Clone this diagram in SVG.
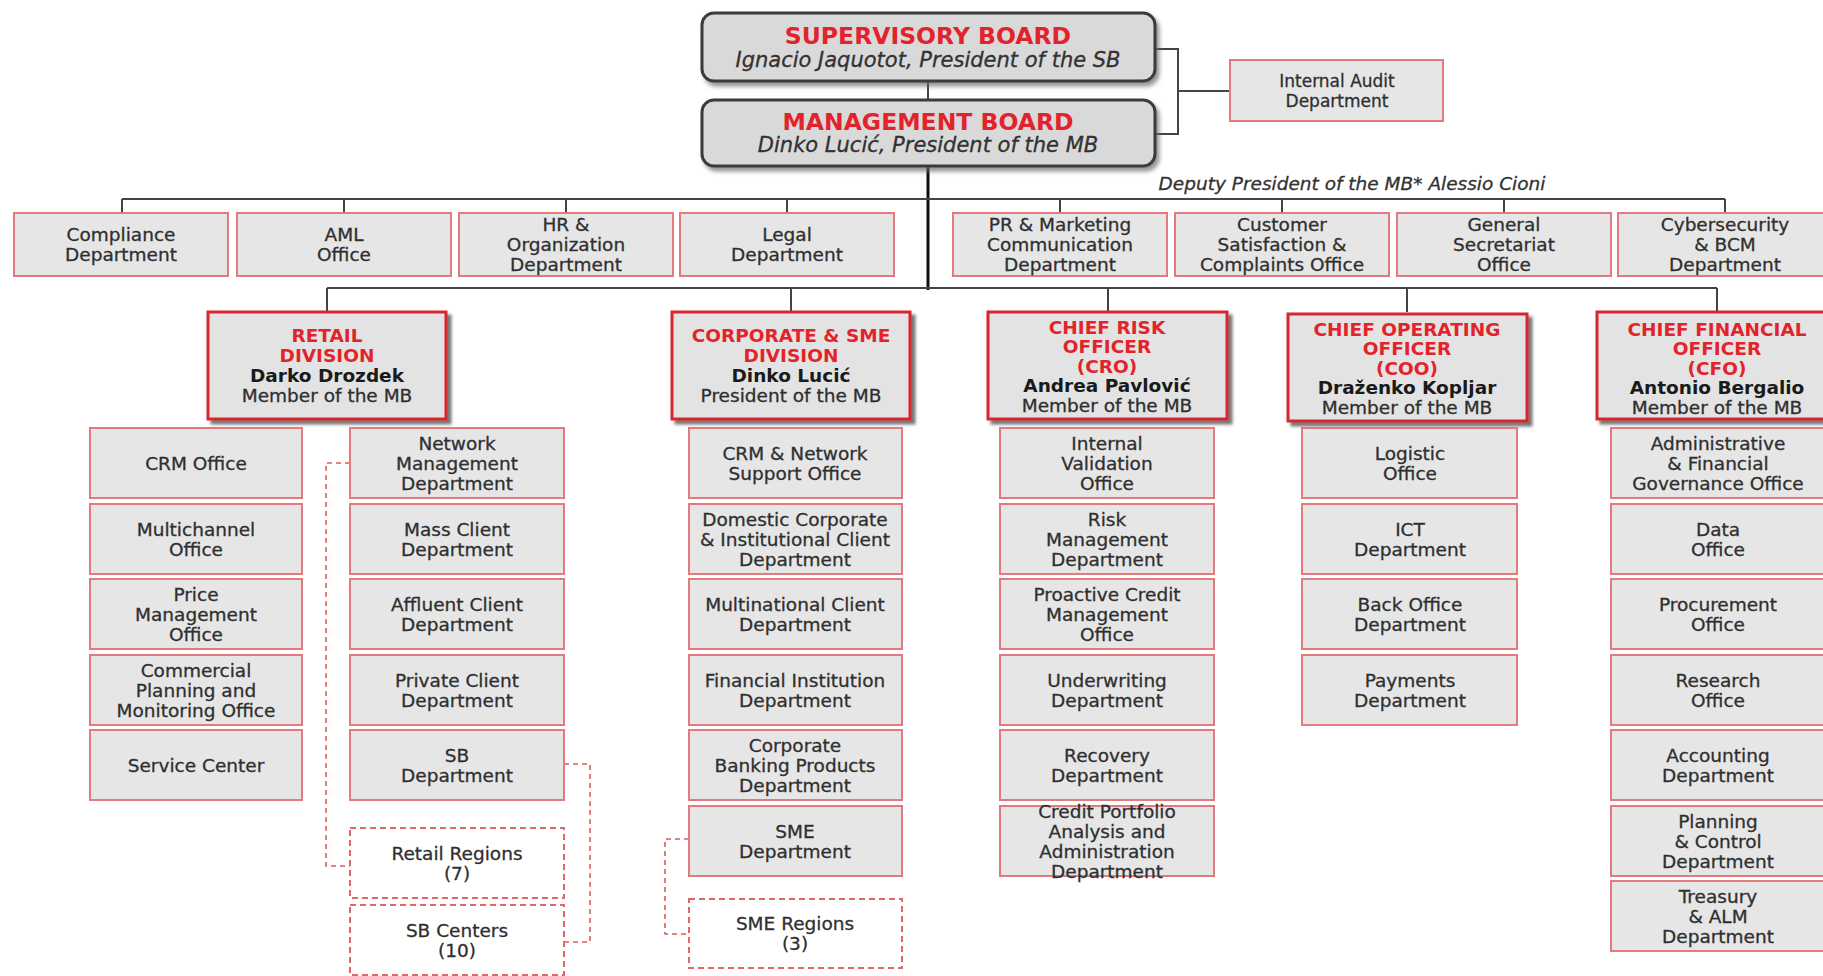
<svg xmlns="http://www.w3.org/2000/svg" width="1823" height="976" viewBox="0 0 1823 976">
<defs>
<filter id="sh" x="-5%" y="-5%" width="115%" height="120%"><feDropShadow dx="4" dy="4" stdDeviation="1.5" flood-color="#555" flood-opacity="0.8"/></filter>
<filter id="sh2" x="-5%" y="-5%" width="115%" height="125%"><feDropShadow dx="3" dy="4" stdDeviation="2" flood-color="#666" flood-opacity="0.7"/></filter>
</defs>
<style>
.box{fill:#e6e6e6;stroke:#e27a7e;stroke-width:2}
.dbox{fill:#fff;stroke:#e0666a;stroke-width:2;stroke-dasharray:6 4}
.div{fill:#e3e3e3;stroke:#d8262d;stroke-width:3;filter:url(#sh)}
.board{fill:#d9d9d9;stroke:#3a3a3a;stroke-width:3;filter:url(#sh2)}
text{font-family:"DejaVu Sans","Liberation Sans",sans-serif;font-size:18.5px;fill:#2f2f2f;stroke:#2f2f2f;stroke-width:0.3;text-anchor:middle}
.red{fill:#e3232b;stroke:none;font-weight:bold}
.nm{fill:#1a1a1a;stroke:none;font-weight:bold}
.bt{font-size:23.5px;fill:#e3232b;stroke:none;font-weight:bold}
.bs{font-size:21px;font-style:italic;fill:#333}
.it{font-style:italic;fill:#333}
.ln{stroke:#444;stroke-width:2;fill:none}
.trunk{stroke:#111;stroke-width:3;fill:none}
.dl{stroke:#e05a5e;stroke-width:1.6;stroke-dasharray:5 4;fill:none}
</style>

<g id="connectors">
<path class="ln" d="M928 81V100"/>
<path class="ln" d="M1155 49H1178V134H1155M1178 91H1230"/>
<path class="trunk" d="M928 166V290"/>
<path class="ln" d="M122 199H1725M122 199V213M344 199V213M566 199V213M787 199V213M1060 199V213M1282 199V213M1504 199V213M1725 199V213"/>
<path class="ln" d="M327 288H1717M327 288V312M791 288V312M1108 288V312M1407 288V312M1717 288V312"/>
<path class="dl" d="M350 463H326V866H350"/>
<path class="dl" d="M564 764H590V942H564"/>
<path class="dl" d="M689 839H665V934H689"/>
</g>

<g id="supervisory-board"><rect class="board" x="702" y="13" width="453" height="68" rx="12"/>
<text class="bt" x="928" y="44">SUPERVISORY BOARD</text><text class="bs" x="928" y="67">Ignacio Jaquotot, President of the SB</text></g>
<g id="management-board"><rect class="board" x="702" y="100" width="453" height="66" rx="12"/>
<text class="bt" x="928" y="130">MANAGEMENT BOARD</text><text class="bs" x="928" y="152">Dinko Lucić, President of the MB</text></g>
<g id="internal-audit"><rect class="box" x="1230" y="60" width="213" height="61"/>
<text x="1337" style="font-size:17px"><tspan x="1337" y="87">Internal Audit</tspan><tspan x="1337" y="107">Department</tspan></text></g>
<g id="deputy"><text class="it" x="1352" y="190">Deputy President of the MB* Alessio Cioni</text></g>

<g id="compliance"><rect class="box" x="14" y="213" width="214" height="63"/><text><tspan x="121" y="241.2">Compliance</tspan><tspan x="121" y="261.2">Department</tspan></text></g>
<g id="aml"><rect class="box" x="237" y="213" width="214" height="63"/><text><tspan x="344" y="241.2">AML</tspan><tspan x="344" y="261.2">Office</tspan></text></g>
<g id="hr"><rect class="box" x="459" y="213" width="214" height="63"/><text><tspan x="566" y="231.2">HR &amp;</tspan><tspan x="566" y="251.2">Organization</tspan><tspan x="566" y="271.2">Department</tspan></text></g>
<g id="legal"><rect class="box" x="680" y="213" width="214" height="63"/><text><tspan x="787" y="241.2">Legal</tspan><tspan x="787" y="261.2">Department</tspan></text></g>
<g id="pr"><rect class="box" x="953" y="213" width="214" height="63"/><text><tspan x="1060" y="231.2">PR &amp; Marketing</tspan><tspan x="1060" y="251.2">Communication</tspan><tspan x="1060" y="271.2">Department</tspan></text></g>
<g id="customer"><rect class="box" x="1175" y="213" width="214" height="63"/><text><tspan x="1282" y="231.2">Customer</tspan><tspan x="1282" y="251.2">Satisfaction &amp;</tspan><tspan x="1282" y="271.2">Complaints Office</tspan></text></g>
<g id="secretariat"><rect class="box" x="1397" y="213" width="214" height="63"/><text><tspan x="1504" y="231.2">General</tspan><tspan x="1504" y="251.2">Secretariat</tspan><tspan x="1504" y="271.2">Office</tspan></text></g>
<g id="cyber"><rect class="box" x="1618" y="213" width="214" height="63"/><text><tspan x="1725" y="231.2">Cybersecurity</tspan><tspan x="1725" y="251.2">&amp; BCM</tspan><tspan x="1725" y="271.2">Department</tspan></text></g>

<g id="retail-division"><rect class="div" x="208" y="312" width="238" height="107"/><text><tspan class="red" x="327" y="342.2">RETAIL</tspan><tspan class="red" x="327" y="362.2">DIVISION</tspan><tspan class="nm" x="327" y="382.2">Darko Drozdek</tspan><tspan x="327" y="402.2">Member of the MB</tspan></text></g>
<g id="corporate-division"><rect class="div" x="672" y="312" width="238" height="107"/><text><tspan class="red" x="791" y="342.2">CORPORATE &amp; SME</tspan><tspan class="red" x="791" y="362.2">DIVISION</tspan><tspan class="nm" x="791" y="382.2">Dinko Lucić</tspan><tspan x="791" y="402.2">President of the MB</tspan></text></g>
<g id="cro"><rect class="div" x="988" y="312" width="239" height="107"/><text><tspan class="red" x="1107" y="333.7">CHIEF RISK</tspan><tspan class="red" x="1107" y="353.2">OFFICER</tspan><tspan class="red" x="1107" y="372.7">(CRO)</tspan><tspan class="nm" x="1107" y="392.2">Andrea Pavlović</tspan><tspan x="1107" y="411.7">Member of the MB</tspan></text></g>
<g id="coo"><rect class="div" x="1288" y="314" width="239" height="107"/><text><tspan class="red" x="1407" y="335.7">CHIEF OPERATING</tspan><tspan class="red" x="1407" y="355.2">OFFICER</tspan><tspan class="red" x="1407" y="374.7">(COO)</tspan><tspan class="nm" x="1407" y="394.2">Draženko Kopljar</tspan><tspan x="1407" y="413.7">Member of the MB</tspan></text></g>
<g id="cfo"><rect class="div" x="1597" y="312" width="239" height="107"/><text><tspan class="red" x="1717" y="335.7">CHIEF FINANCIAL</tspan><tspan class="red" x="1717" y="355.2">OFFICER</tspan><tspan class="red" x="1717" y="374.7">(CFO)</tspan><tspan class="nm" x="1717" y="394.2">Antonio Bergalio</tspan><tspan x="1717" y="413.7">Member of the MB</tspan></text></g>

<g id="crm-office"><rect class="box" x="90" y="428" width="212" height="70"/><text x="196" y="469.7">CRM Office</text></g>
<g id="multichannel"><rect class="box" x="90" y="504" width="212" height="70"/><text><tspan x="196" y="535.7">Multichannel</tspan><tspan x="196" y="555.7">Office</tspan></text></g>
<g id="price"><rect class="box" x="90" y="579" width="212" height="70"/><text><tspan x="196" y="600.7">Price</tspan><tspan x="196" y="620.7">Management</tspan><tspan x="196" y="640.7">Office</tspan></text></g>
<g id="commercial"><rect class="box" x="90" y="655" width="212" height="70"/><text><tspan x="196" y="676.7">Commercial</tspan><tspan x="196" y="696.7">Planning and</tspan><tspan x="196" y="716.7">Monitoring Office</tspan></text></g>
<g id="service-center"><rect class="box" x="90" y="730" width="212" height="70"/><text x="196" y="771.7">Service Center</text></g>

<g id="network-mgmt"><rect class="box" x="350" y="428" width="214" height="70"/><text><tspan x="457" y="449.7">Network</tspan><tspan x="457" y="469.7">Management</tspan><tspan x="457" y="489.7">Department</tspan></text></g>
<g id="mass-client"><rect class="box" x="350" y="504" width="214" height="70"/><text><tspan x="457" y="535.7">Mass Client</tspan><tspan x="457" y="555.7">Department</tspan></text></g>
<g id="affluent-client"><rect class="box" x="350" y="579" width="214" height="70"/><text><tspan x="457" y="610.7">Affluent Client</tspan><tspan x="457" y="630.7">Department</tspan></text></g>
<g id="private-client"><rect class="box" x="350" y="655" width="214" height="70"/><text><tspan x="457" y="686.7">Private Client</tspan><tspan x="457" y="706.7">Department</tspan></text></g>
<g id="sb-dept"><rect class="box" x="350" y="730" width="214" height="70"/><text><tspan x="457" y="761.7">SB</tspan><tspan x="457" y="781.7">Department</tspan></text></g>
<g id="retail-regions"><rect class="dbox" x="350" y="828" width="214" height="70"/><text><tspan x="457" y="859.7">Retail Regions</tspan><tspan x="457" y="879.7">(7)</tspan></text></g>
<g id="sb-centers"><rect class="dbox" x="350" y="905" width="214" height="70"/><text><tspan x="457" y="936.7">SB Centers</tspan><tspan x="457" y="956.7">(10)</tspan></text></g>

<g id="crm-network"><rect class="box" x="689" y="428" width="213" height="70"/><text><tspan x="795" y="459.7">CRM &amp; Network</tspan><tspan x="795" y="479.7">Support Office</tspan></text></g>
<g id="domestic"><rect class="box" x="689" y="504" width="213" height="70"/><text><tspan x="795" y="525.7">Domestic Corporate</tspan><tspan x="795" y="545.7">&amp; Institutional Client</tspan><tspan x="795" y="565.7">Department</tspan></text></g>
<g id="multinational"><rect class="box" x="689" y="579" width="213" height="70"/><text><tspan x="795" y="610.7">Multinational Client</tspan><tspan x="795" y="630.7">Department</tspan></text></g>
<g id="financial-inst"><rect class="box" x="689" y="655" width="213" height="70"/><text><tspan x="795" y="686.7">Financial Institution</tspan><tspan x="795" y="706.7">Department</tspan></text></g>
<g id="corp-banking"><rect class="box" x="689" y="730" width="213" height="70"/><text><tspan x="795" y="751.7">Corporate</tspan><tspan x="795" y="771.7">Banking Products</tspan><tspan x="795" y="791.7">Department</tspan></text></g>
<g id="sme-dept"><rect class="box" x="689" y="806" width="213" height="70"/><text><tspan x="795" y="837.7">SME</tspan><tspan x="795" y="857.7">Department</tspan></text></g>
<g id="sme-regions"><rect class="dbox" x="689" y="899" width="213" height="69"/><text><tspan x="795" y="930.2">SME Regions</tspan><tspan x="795" y="950.2">(3)</tspan></text></g>

<g id="internal-validation"><rect class="box" x="1000" y="428" width="214" height="70"/><text><tspan x="1107" y="449.7">Internal</tspan><tspan x="1107" y="469.7">Validation</tspan><tspan x="1107" y="489.7">Office</tspan></text></g>
<g id="risk-mgmt"><rect class="box" x="1000" y="504" width="214" height="70"/><text><tspan x="1107" y="525.7">Risk</tspan><tspan x="1107" y="545.7">Management</tspan><tspan x="1107" y="565.7">Department</tspan></text></g>
<g id="proactive"><rect class="box" x="1000" y="579" width="214" height="70"/><text><tspan x="1107" y="600.7">Proactive Credit</tspan><tspan x="1107" y="620.7">Management</tspan><tspan x="1107" y="640.7">Office</tspan></text></g>
<g id="underwriting"><rect class="box" x="1000" y="655" width="214" height="70"/><text><tspan x="1107" y="686.7">Underwriting</tspan><tspan x="1107" y="706.7">Department</tspan></text></g>
<g id="recovery"><rect class="box" x="1000" y="730" width="214" height="70"/><text><tspan x="1107" y="761.7">Recovery</tspan><tspan x="1107" y="781.7">Department</tspan></text></g>
<g id="credit-portfolio"><rect class="box" x="1000" y="806" width="214" height="70"/><text><tspan x="1107" y="817.7">Credit Portfolio</tspan><tspan x="1107" y="837.7">Analysis and</tspan><tspan x="1107" y="857.7">Administration</tspan><tspan x="1107" y="877.7">Department</tspan></text></g>

<g id="logistic"><rect class="box" x="1302" y="428" width="215" height="70"/><text><tspan x="1410" y="459.7">Logistic</tspan><tspan x="1410" y="479.7">Office</tspan></text></g>
<g id="ict"><rect class="box" x="1302" y="504" width="215" height="70"/><text><tspan x="1410" y="535.7">ICT</tspan><tspan x="1410" y="555.7">Department</tspan></text></g>
<g id="back-office"><rect class="box" x="1302" y="579" width="215" height="70"/><text><tspan x="1410" y="610.7">Back Office</tspan><tspan x="1410" y="630.7">Department</tspan></text></g>
<g id="payments"><rect class="box" x="1302" y="655" width="215" height="70"/><text><tspan x="1410" y="686.7">Payments</tspan><tspan x="1410" y="706.7">Department</tspan></text></g>

<g id="admin-fin"><rect class="box" x="1611" y="428" width="214" height="70"/><text><tspan x="1718" y="449.7">Administrative</tspan><tspan x="1718" y="469.7">&amp; Financial</tspan><tspan x="1718" y="489.7">Governance Office</tspan></text></g>
<g id="data"><rect class="box" x="1611" y="504" width="214" height="70"/><text><tspan x="1718" y="535.7">Data</tspan><tspan x="1718" y="555.7">Office</tspan></text></g>
<g id="procurement"><rect class="box" x="1611" y="579" width="214" height="70"/><text><tspan x="1718" y="610.7">Procurement</tspan><tspan x="1718" y="630.7">Office</tspan></text></g>
<g id="research"><rect class="box" x="1611" y="655" width="214" height="70"/><text><tspan x="1718" y="686.7">Research</tspan><tspan x="1718" y="706.7">Office</tspan></text></g>
<g id="accounting"><rect class="box" x="1611" y="730" width="214" height="70"/><text><tspan x="1718" y="761.7">Accounting</tspan><tspan x="1718" y="781.7">Department</tspan></text></g>
<g id="planning"><rect class="box" x="1611" y="806" width="214" height="70"/><text><tspan x="1718" y="827.7">Planning</tspan><tspan x="1718" y="847.7">&amp; Control</tspan><tspan x="1718" y="867.7">Department</tspan></text></g>
<g id="treasury"><rect class="box" x="1611" y="881" width="214" height="70"/><text><tspan x="1718" y="902.7">Treasury</tspan><tspan x="1718" y="922.7">&amp; ALM</tspan><tspan x="1718" y="942.7">Department</tspan></text></g>
</svg>
